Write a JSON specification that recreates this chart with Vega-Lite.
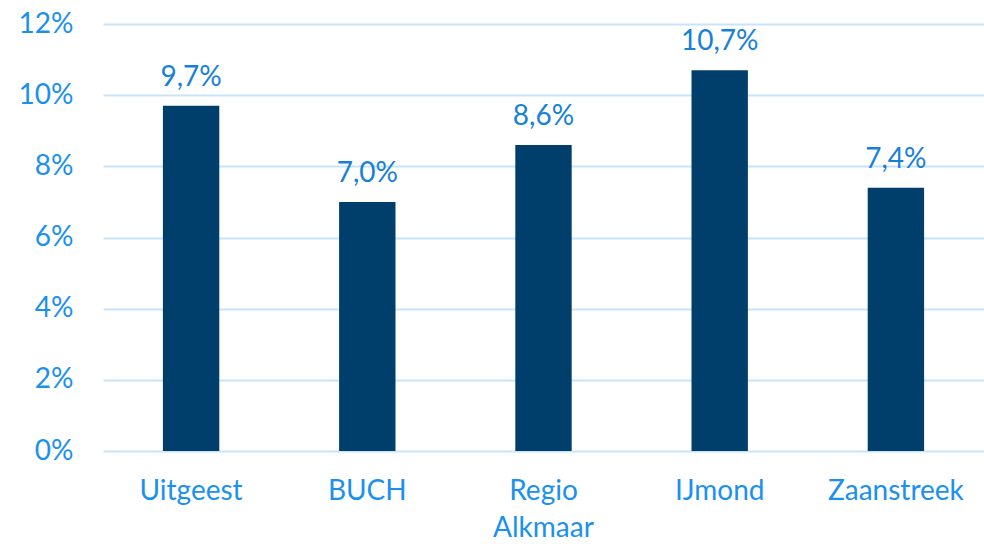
{
  "$schema": "https://vega.github.io/schema/vega-lite/v6.json",
  "autosize": {"type": "none"},
  "padding": {"left": 103, "top": 24, "right": 0, "bottom": 93},
  "width": 881,
  "height": 427,
  "background": "white",
  "config": {
    "view": {"stroke": null},
    "locale": {"number": {"decimal": ",", "thousands": ".", "grouping": [3], "currency": ["€", ""]}},
    "font": "Lato"
  },
  "data": {"values": [
    {"regio": "Uitgeest", "waarde": 0.097},
    {"regio": "BUCH", "waarde": 0.070},
    {"regio": "Regio Alkmaar", "waarde": 0.086},
    {"regio": "IJmond", "waarde": 0.107},
    {"regio": "Zaanstreek", "waarde": 0.074}
  ]},
  "encoding": {
    "x": {
      "field": "regio", "type": "nominal", "sort": null,
      "scale": {"paddingInner": 0.68, "paddingOuter": 0.34},
      "axis": {
        "title": null, "domain": false, "ticks": false, "labelAngle": 0,
        "labelFontSize": 28, "labelColor": "#1A90F0", "labelPadding": 26,
        "labelLineHeight": 37,
        "labelExpr": "datum.value == 'Regio Alkmaar' ? ['Regio', 'Alkmaar'] : datum.value"
      }
    },
    "y": {
      "field": "waarde", "type": "quantitative",
      "scale": {"domain": [0, 0.12]},
      "axis": {
        "title": null, "format": ".0%", "values": [0, 0.02, 0.04, 0.06, 0.08, 0.1, 0.12],
        "domain": false, "ticks": false, "labelFontSize": 28, "labelColor": "#1A90F0",
        "labelPadding": 30, "gridColor": "#C8E4FA", "gridWidth": 2
      }
    }
  },
  "layer": [
    {"mark": {"type": "bar", "color": "#003F6C"}},
    {
      "mark": {"type": "text", "baseline": "alphabetic", "dy": -20, "fontSize": 28, "color": "#1780D8"},
      "encoding": {"text": {"field": "waarde", "type": "quantitative", "format": ".1%"}}
    }
  ]
}
